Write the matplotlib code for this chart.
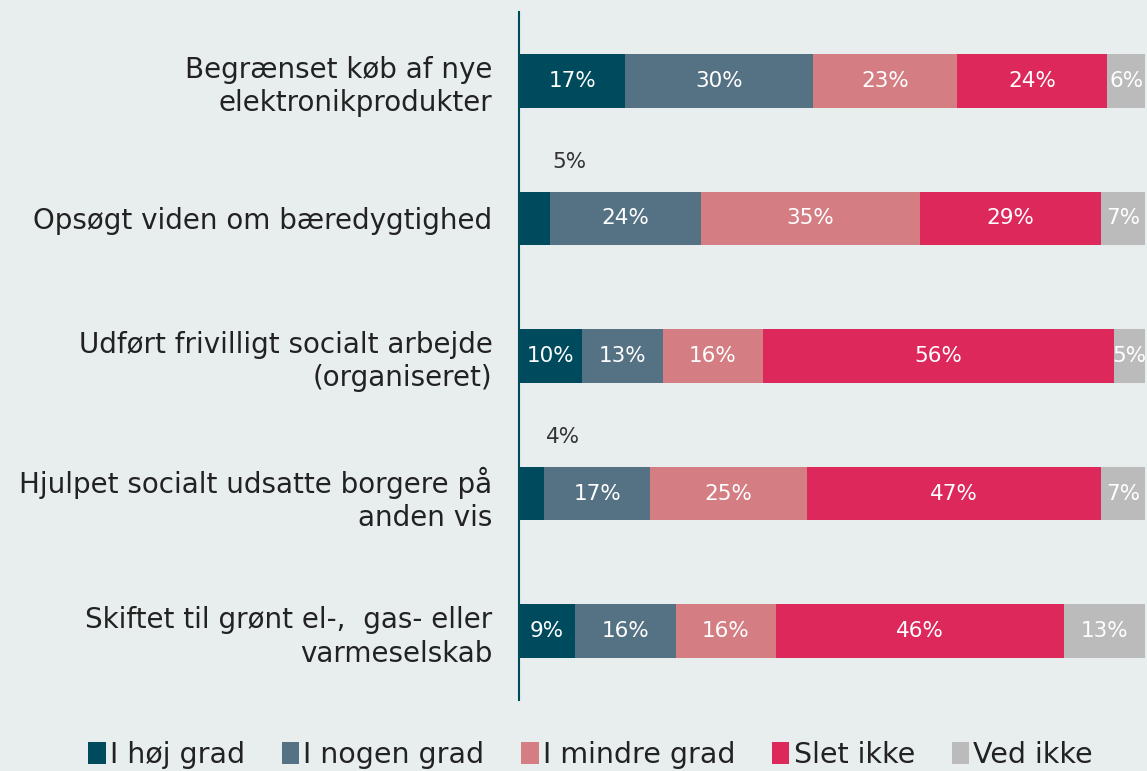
import numpy as np
import matplotlib.pyplot as plt
from matplotlib.patches import Patch

categories = [
    "Begrænset køb af nye\nelektronikprodukter",
    "Opsøgt viden om bæredygtighed",
    "Udført frivilligt socialt arbejde\n(organiseret)",
    "Hjulpet socialt udsatte borgere på\nanden vis",
    "Skiftet til grønt el-,  gas- eller\nvarmeselskab",
]
series_names = ["I høj grad", "I nogen grad", "I mindre grad", "Slet ikke", "Ved ikke"]
hoj = [17, 5, 10, 4, 9]
nogen = [30, 24, 13, 17, 16]
mindre = [23, 35, 16, 25, 16]
slet = [24, 29, 56, 47, 46]
ved = [6, 7, 5, 7, 13]

colors = ["#004A5E", "#557285", "#D47E84", "#DD285B", "#BBBBBB"]
bg = "#E8EDED"

fig = plt.figure(figsize=(11.47, 7.71), dpi=100, facecolor=bg)
ax = fig.add_axes([519 / 1147, 1 - 700 / 771, 626 / 1147, 688 / 771])
ax.set_facecolor(bg)

data = np.array([hoj, nogen, mindre, slet, ved])
y = np.arange(len(categories))
left = np.zeros(len(categories))
for i, vals in enumerate(data):
    ax.barh(y, vals, left=left, height=0.39, color=colors[i], edgecolor="none")
    for j, v in enumerate(vals):
        if v >= 6 or (i == 4):
            ax.text(left[j] + v / 2, y[j], f"{v}%", ha="center", va="center",
                    color="white", fontsize=15.5)
        else:
            # small segments get their label above the bar
            ax.text(left[j] + v + 3, y[j] - 0.41, f"{v}%", ha="center", va="center",
                    color="#333333", fontsize=15.5)
    left += vals

ax.set_xlim(0, 100)
ax.set_ylim(len(categories) - 0.5, -0.5)
ax.set_yticks(y)
ax.set_yticklabels(categories, fontsize=20, color="#222222", linespacing=1.25)
ax.tick_params(axis="y", length=0, pad=19)
ax.set_xticks([])
for s in ["top", "right", "bottom"]:
    ax.spines[s].set_visible(False)
ax.spines["left"].set_color("#004A5E")
ax.spines["left"].set_linewidth(1.5)

handles = [Patch(facecolor=c, edgecolor="none") for c in colors]
fig.legend(handles, series_names, loc="center", bbox_to_anchor=(0.515, 0.021),
           ncol=5, frameon=False, fontsize=20.5, handlelength=0.6, handleheight=0.8,
           handletextpad=0.15, columnspacing=1.3, labelcolor="#222222")

fig.savefig("out.png", dpi=100, facecolor=bg)
